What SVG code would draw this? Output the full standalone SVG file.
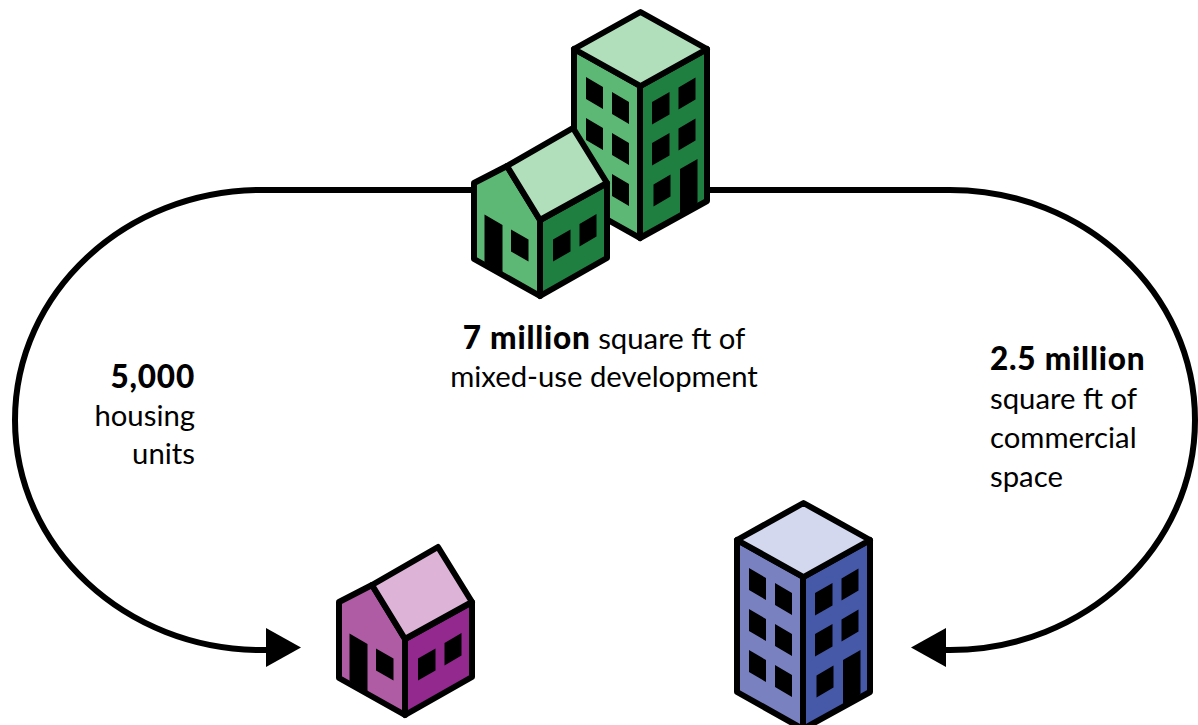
<svg xmlns="http://www.w3.org/2000/svg" xmlns:xlink="http://www.w3.org/1999/xlink" width="1198" height="725" viewBox="0 0 1198 725">
<style>
.b{stroke:#000;stroke-width:6;stroke-linejoin:round}
.g1{fill:#5CB874}.g2{fill:#1F7F41}.g3{fill:#B2DFBB}
.p1{fill:#B05CA5}.p2{fill:#93288E}.p3{fill:#DDB4D8}
.u1{fill:#7A81C1}.u2{fill:#4658A8}.u3{fill:#D3D8EE}
.w{fill:#000}
.c{fill:none;stroke:#000;stroke-width:6}
text{font-family:"Lato","Liberation Sans",sans-serif;font-size:29.300px;fill:#000}
.s{font-weight:900;letter-spacing:0.800px;font-size:31.500px}
</style>
<defs>
<g id="towerWin" class="w">
<path d="M586 77L603 87V109L586 99Z M612 92L629 102V124L612 114Z M586 118L603 128V150L586 140Z M612 133L629 143V165L612 155Z M612 174L629 184V206L612 196Z"/>
<path d="M652 102L669.500 92V114.500L652 124.500Z M678.500 87.500L695.500 77.500V99.500L678.500 109.500Z M652 143L669.500 133V155.500L652 165.500Z M678.500 128.500L695.500 118.500V140.500L678.500 150.500Z M653.500 184.500L670.500 174.500V196.500L653.500 206.500Z M680 169L697.500 159V203L680 215Z"/>
</g>
<g id="houseWin" class="w">
<path d="M484.500 214.500L502.500 225V273L484.500 262Z M511 229.500L528.500 239.500V261.500L511 251.500Z M553 239.500L570.500 229.500V251.500L553 261.500Z M579.500 224L596.500 214V236.500L579.500 246.500Z"/>
</g>
</defs>
<g id="connectors">
<path class="c" d="M474 190H262C125 190 15 293 15 420C15 547 125 650 262 650H270"/>
<path class="w" d="M266 628L301 647.500L266 667Z"/>
<path class="c" d="M706 190H950C1085 190 1195 293 1195 420C1195 547 1085 650 950 650H942"/>
<path class="w" d="M946 628L911 647.500L946 667Z"/>
</g>
<g id="node-mixed-use">
<path class="g1 b" d="M574 49V201L640 238V86Z"/>
<path class="g2 b" d="M707 49V201L640 238V86Z"/>
<path class="g3 b" d="M640.500 12L574 49L640.500 86L707 49Z"/>
<use xlink:href="#towerWin" href="#towerWin"/>
<path class="g1 b" d="M474 183L507 166L540 220V296L474 259Z"/>
<path class="g2 b" d="M607 183V258L540 296V220Z"/>
<path class="g3 b" d="M507 166L573 128L607 183L540 220Z"/>
<use xlink:href="#houseWin" href="#houseWin"/>
</g>
<g id="node-housing">
<g transform="translate(-135 419)">
<path class="p1 b" d="M474 183L507 166L540 220V296L474 259Z"/>
<path class="p2 b" d="M607 183V258L540 296V220Z"/>
<path class="p3 b" d="M507 166L573 128L607 183L540 220Z"/>
<use xlink:href="#houseWin" href="#houseWin"/>
</g>
</g>
<g id="node-commercial">
<g transform="translate(163 491)">
<path class="u1 b" d="M574 49V201L640 238V86Z"/>
<path class="u2 b" d="M707 49V201L640 238V86Z"/>
<path class="u3 b" d="M640.500 12L574 49L640.500 86L707 49Z"/>
<use xlink:href="#towerWin" href="#towerWin"/>
<path class="w" d="M586 159L603 169V191L586 181Z"/>
</g>
</g>
<g id="labels">
<text x="604" y="349" text-anchor="middle"><tspan class="s">7 million</tspan> square ft of</text>
<text x="604" y="387" text-anchor="middle">mixed-use development</text>
<text x="195" y="388" text-anchor="end" class="s">5,000</text>
<text x="195" y="426" text-anchor="end">housing</text>
<text x="195" y="464" text-anchor="end">units</text>
<text x="990" y="370" class="s">2.5 million</text>
<text x="990" y="409">square ft of</text>
<text x="990" y="448">commercial</text>
<text x="990" y="487">space</text>
</g>
</svg>
